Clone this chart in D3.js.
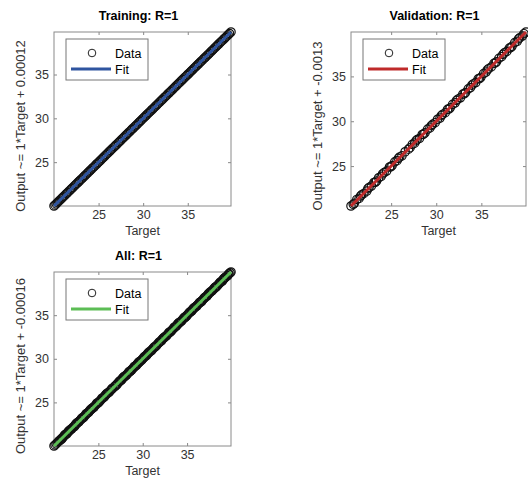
<!doctype html>
<html>
<head>
	<script src="https://cdn.jsdelivr.net/npm/d3@7/dist/d3.min.js"></script>
	<style type="text/css">
		body { margin: 0; background: white; }
		svg {
			height: 479px;
			width: 528px;
			font-family: "Liberation Sans", Arial, sans-serif;
		}
		.tick text { fill: #333; font-size: 12.5px; }
		.tick line { stroke: #888; }
	</style>
</head>
<body>

	<svg></svg>

	<script type="text/javascript">

	// training set: [target, output]
	var trainPoints = [
		[20.00,20.00],[20.12,20.12],[20.25,20.25],[20.38,20.38],[20.52,20.52],[20.66,20.66],[20.81,20.81],[20.95,20.95],
		[21.09,21.09],[21.24,21.24],[21.40,21.40],[21.53,21.53],[21.69,21.69],[21.84,21.84],[21.98,21.98],[22.13,22.13],
		[22.29,22.29],[22.43,22.43],[22.58,22.58],[22.74,22.74],[22.88,22.88],[23.03,23.03],[23.19,23.19],[23.33,23.33],
		[23.48,23.48],[23.64,23.64],[23.79,23.79],[23.92,23.92],[24.08,24.08],[24.24,24.24],[24.37,24.37],[24.53,24.53],
		[24.69,24.69],[24.82,24.82],[24.98,24.98],[25.13,25.13],[25.27,25.27],[25.43,25.43],[25.58,25.58],[25.72,25.72],
		[25.88,25.88],[26.03,26.03],[26.17,26.17],[26.33,26.33],[26.48,26.48],[26.62,26.62],[26.78,26.78],[26.93,26.93],
		[27.07,27.07],[27.23,27.23],[27.38,27.38],[27.52,27.52],[27.68,27.68],[27.83,27.83],[27.97,27.97],[28.13,28.13],
		[28.28,28.28],[28.42,28.42],[28.58,28.58],[28.73,28.73],[28.87,28.87],[29.03,29.03],[29.18,29.18],[29.32,29.32],
		[29.48,29.48],[29.63,29.63],[29.77,29.77],[29.93,29.93],[30.08,30.08],[30.22,30.22],[30.38,30.38],[30.53,30.53],
		[30.67,30.67],[30.83,30.83],[30.98,30.98],[31.12,31.12],[31.28,31.28],[31.43,31.43],[31.57,31.57],[31.73,31.73],
		[31.88,31.88],[32.02,32.02],[32.18,32.18],[32.33,32.33],[32.47,32.47],[32.63,32.63],[32.78,32.78],[32.92,32.92],
		[33.08,33.08],[33.23,33.23],[33.37,33.37],[33.53,33.53],[33.68,33.68],[33.82,33.82],[33.98,33.98],[34.13,34.13],
		[34.27,34.27],[34.43,34.43],[34.58,34.58],[34.72,34.72],[34.88,34.88],[35.03,35.03],[35.17,35.17],[35.33,35.33],
		[35.48,35.48],[35.62,35.62],[35.78,35.78],[35.93,35.93],[36.07,36.07],[36.23,36.23],[36.38,36.38],[36.52,36.52],
		[36.68,36.68],[36.83,36.83],[36.97,36.97],[37.13,37.13],[37.28,37.28],[37.42,37.42],[37.58,37.58],[37.73,37.73],
		[37.87,37.87],[38.03,38.03],[38.18,38.18],[38.32,38.32],[38.48,38.48],[38.63,38.63],[38.77,38.77],[38.93,38.93],
		[39.08,39.08],[39.22,39.22],[39.38,39.38],[39.53,39.53],[39.68,39.68],[39.85,39.85]
	];

	// validation set: [target, output]
	var valPoints = [
		[20.55,20.55],[20.80,20.74],[20.92,20.85],[21.20,21.28],[21.45,21.40],[21.60,21.66],[21.73,21.80],[21.98,21.95],
		[22.30,22.22],[22.42,22.48],[22.55,22.62],[22.81,22.78],[23.10,23.17],[23.24,23.20],[23.38,23.32],[23.62,23.70],
		[23.90,23.86],[24.05,24.12],[24.22,24.28],[24.50,24.44],[24.82,24.90],[24.96,24.92],[25.10,25.05],[25.40,25.48],
		[25.65,25.60],[25.80,25.86],[25.95,26.02],[26.20,26.14],[26.55,26.60],[26.92,26.88],[27.10,27.05],[27.35,27.42],
		[27.60,27.56],[27.75,27.82],[27.88,27.95],[28.15,28.10],[28.45,28.52],[28.60,28.56],[28.75,28.70],[29.05,29.12],
		[29.30,29.25],[29.45,29.50],[29.60,29.66],[29.88,29.84],[30.15,30.22],[30.42,30.36],[30.56,30.62],[30.70,30.76],
		[31.00,30.95],[31.25,31.32],[31.40,31.36],[31.55,31.50],[31.82,31.88],[32.10,32.05],[32.25,32.32],[32.40,32.46],
		[32.68,32.62],[32.95,33.02],[33.10,33.06],[33.25,33.20],[33.55,33.62],[33.80,33.75],[33.95,34.02],[34.10,34.16],
		[34.38,34.32],[34.65,34.72],[34.80,34.76],[34.95,34.90],[35.25,35.32],[35.52,35.48],[35.66,35.72],[35.80,35.86],
		[36.10,36.05],[36.40,36.46],[36.55,36.50],[36.68,36.62],[36.95,37.02],[37.25,37.20],[37.40,37.46],[37.55,37.62],
		[37.82,37.78],[38.10,38.16],[38.25,38.20],[38.40,38.35],[38.70,38.76],[38.98,38.92],[39.12,39.18],[39.25,39.30],
		[39.55,39.50],[39.72,39.76],[39.95,39.95]
	];

	var allPoints = trainPoints.concat(valPoints);

	var tickValues = [25, 30, 35];

	var titles = ["Training: R=1", "Validation: R=1", "All: R=1"];
	var yLabels = ["Output ~= 1*Target + 0.00012", "Output ~= 1*Target + -0.0013", "Output ~= 1*Target + -0.00016"];
	var slopes = [1, 1, 1];
	var intercepts = [0.00012, -0.0013, -0.00016];
	var fitColors = ["#2f55a0", "#bf2a2a", "#5cbd55"];

	var svg = d3.select("svg");

	drawPanel(trainPoints, 0, 54, 32, 177, 174);
	drawPanel(valPoints, 1, 351, 32, 175, 174);
	drawPanel(allPoints, 2, 54, 272, 177, 174);

	function drawPanel(data, i, left, top, w, h) {
		var ext = d3.extent(data.map(function(d) { return d[0]; }).concat(data.map(function(d) { return d[1]; })));
		var xScale = d3.scaleLinear().domain(ext).range([left, left + w]);
		var yScale = d3.scaleLinear().domain(ext).range([top + h, top]);

		var g = svg.append("g");

		// axes, ticks pointing inward on all four sides
		g.append("g").attr("transform", "translate(0," + (top + h) + ")")
		  .call(d3.axisBottom(xScale).tickValues(tickValues).tickSize(-3).tickPadding(4));
		g.append("g").attr("transform", "translate(0," + top + ")")
		  .call(d3.axisTop(xScale).tickValues(tickValues).tickSize(-3).tickFormat(""));
		g.append("g").attr("transform", "translate(" + left + ",0)")
		  .call(d3.axisLeft(yScale).tickValues(tickValues).tickSize(-3).tickPadding(5));
		g.append("g").attr("transform", "translate(" + (left + w) + ",0)")
		  .call(d3.axisRight(yScale).tickValues(tickValues).tickSize(-3).tickFormat(""));
		g.selectAll(".domain").remove();
		g.selectAll(".tick text").style("font-family", "Liberation Sans, Arial, sans-serif");

		g.append("rect")
		  .attr("x", left).attr("y", top)
		  .attr("width", w).attr("height", h)
		  .attr("fill", "none")
		  .attr("stroke", "#8a8a8a");

		// data circles
		g.selectAll("circle.data")
		  .data(data)
		  .enter()
		  .append("circle")
		  .attr("class", "data")
		  .attr("r", 4.2)
		  .attr("cx", function(d) { return xScale(d[0]); })
		  .attr("cy", function(d) { return yScale(d[1]); })
		  .attr("fill", "none")
		  .attr("stroke", "#111")
		  .attr("stroke-width", 1.2);

		// fit line
		var fitLine = d3.line()
		  .x(function(d) { return xScale(d); })
		  .y(function(d) { return yScale(slopes[i] * d + intercepts[i]); });
		g.append("path")
		  .attr("d", fitLine(ext))
		  .attr("fill", "none")
		  .attr("stroke", fitColors[i])
		  .attr("stroke-width", 3);

		// titles and labels
		g.append("text")
		  .attr("x", left + w / 2 - 4)
		  .attr("y", top - 12)
		  .attr("text-anchor", "middle")
		  .style("font-weight", "bold")
		  .style("font-size", "12.5px")
		  .text(titles[i]);
		g.append("text")
		  .attr("x", left + w / 2)
		  .attr("y", top + h + 29)
		  .attr("text-anchor", "middle")
		  .style("font-size", "12.5px")
		  .attr("fill", "#333")
		  .text("Target");
		g.append("text")
		  .attr("transform", "translate(" + (left - 29) + "," + (top + h / 2 + 7) + ") rotate(-90)")
		  .attr("text-anchor", "middle")
		  .style("font-size", "13px")
		  .attr("fill", "#333")
		  .text(yLabels[i]);

		// legend
		var lx = left + 12, ly = top + 7;
		g.append("rect")
		  .attr("x", lx).attr("y", ly)
		  .attr("width", 82).attr("height", 41)
		  .attr("fill", "white")
		  .attr("stroke", "#777");
		g.append("circle")
		  .attr("cx", lx + 26).attr("cy", ly + 14)
		  .attr("r", 3.8)
		  .attr("fill", "none")
		  .attr("stroke", "#222");
		g.append("text")
		  .attr("x", lx + 49).attr("y", ly + 18.5)
		  .style("font-size", "12.5px")
		  .text("Data");
		g.append("line")
		  .attr("x1", lx + 5).attr("x2", lx + 45)
		  .attr("y1", ly + 30).attr("y2", ly + 30)
		  .attr("stroke", fitColors[i])
		  .attr("stroke-width", 3);
		g.append("text")
		  .attr("x", lx + 49).attr("y", ly + 34.5)
		  .style("font-size", "12.5px")
		  .text("Fit");
	}

	</script>
</body>
</html>
